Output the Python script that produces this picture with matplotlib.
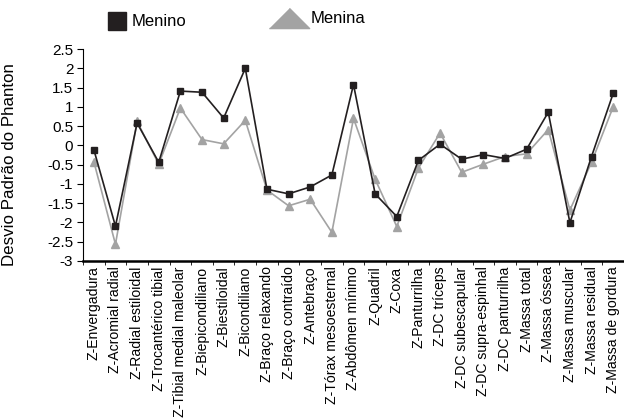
import numpy as np
import matplotlib.pyplot as plt
from matplotlib.lines import Line2D

plt.rcParams['font.family'] = ['Liberation Sans', 'DejaVu Sans']

categorias = ["Z-Envergadura", "Z-Acromial radial", "Z-Radial estiloidal",
              "Z-Trocantérico tibial", "Z-Tibial medial maleolar", "Z-Biepicondiliano",
              "Z-Biestiloidal", "Z-Bicondiliano", "Z-Braço relaxando",
              "Z-Braço contraído", "Z-Antebraço", "Z-Tórax mesoesternal",
              "Z-Abdômen mínimo", "Z-Quadril", "Z-Coxa", "Z-Panturrilha",
              "Z-DC tríceps", "Z-DC subescapular", "Z-DC supra-espinhal",
              "Z-DC panturrilha", "Z-Massa total", "Z-Massa óssea",
              "Z-Massa muscular", "Z-Massa residual", "Z-Massa de gordura"]

menino = [-0.11, -2.10, 0.58, -0.44, 1.41, 1.38, 0.71, 2.00, -1.14, -1.26,
          -1.08, -0.77, 1.58, -1.26, -1.85, -0.39, 0.03, -0.36, -0.24, -0.34,
          -0.10, 0.86, -2.01, -0.29, 1.35]
menina = [-0.42, -2.57, 0.62, -0.49, 0.97, 0.15, 0.04, 0.65, -1.16, -1.57,
          -1.40, -2.26, 0.70, -0.88, -2.11, -0.59, 0.32, -0.70, -0.49, -0.29,
          -0.22, 0.41, -1.68, -0.44, 1.00]

cor_menino = "#231f20"
cor_menina = "#a3a3a3"

fig = plt.figure(figsize=(6.24, 4.2), dpi=100)
ax = fig.add_axes([0.133, 0.379, 0.867, 0.504])

x = np.arange(len(categorias))
ax.plot(x, menina, color=cor_menina, linewidth=1.2, marker="^", markersize=5.5)
ax.plot(x, menino, color=cor_menino, linewidth=1.2, marker="s", markersize=5)

ax.set_xlim(-0.5, len(categorias) - 0.5)
ax.set_ylim(-3, 2.5)
ax.set_yticks(np.arange(-3, 2.51, 0.5))
ax.set_yticklabels([f"{v:g}" for v in np.arange(-3, 2.51, 0.5)])
ax.set_xticks(x)
ax.set_xticklabels(categorias, rotation=90)
ax.set_xticks(np.arange(-0.5, len(categorias), 1), minor=True)
ax.tick_params(axis="x", which="major", length=0, pad=4, labelsize=10.1)
ax.tick_params(axis="x", which="minor", length=3, direction="out")
ax.tick_params(axis="y", length=4, direction="out", labelsize=11, pad=3)

ax.spines["top"].set_visible(False)
ax.spines["right"].set_visible(False)
ax.spines["bottom"].set_linewidth(1.8)
ax.spines["left"].set_linewidth(0.8)

ax.set_ylabel("Desvio Padrão do Phanton", fontsize=12.2)
ax.yaxis.set_label_coords(-0.122, 0.455)

h1 = Line2D([], [], color=cor_menino, marker="s", linestyle="none", markersize=12.5)
tri = [(-2, -1), (2, -1), (0, 1)]
h2 = Line2D([], [], color=cor_menina, marker=tri, linestyle="none", markersize=29)
fig.legend([h1], ["Menino"], loc="center left", bbox_to_anchor=(0.15, 0.948),
           frameon=False, fontsize=12, handlelength=1.0, handletextpad=0.4)
fig.legend([h2], ["Menina"], loc="center left", bbox_to_anchor=(0.413, 0.955),
           frameon=False, fontsize=12, handlelength=2.0, handletextpad=0.3)

fig.savefig("out.png", dpi=100)
